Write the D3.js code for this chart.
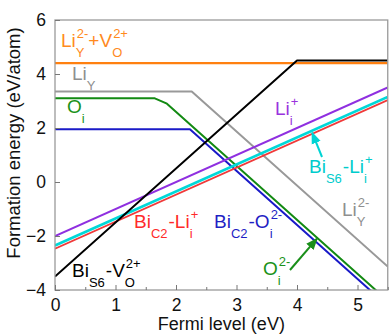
<!DOCTYPE html>
<html>
<head>
<meta charset="utf-8">
<script src="https://cdn.jsdelivr.net/npm/d3@7/dist/d3.min.js"></script>
<style>
  html, body { margin: 0; padding: 0; background: #fff; }
  svg { display: block; font-family: "Liberation Sans", Arial, sans-serif; }
</style>
</head>
<body>
<svg id="chart" width="389" height="335"></svg>
<script>
// Defect formation energies vs Fermi level (piecewise-linear, breakpoints at transition levels)
const xTicks = [0, 1, 2, 3, 4, 5];
const xMinorTicks = [0.5, 1.5, 2.5, 3.5, 4.5, 5.5];
const yTicks = [-4, -2, 0, 2, 4, 6];

const fermiLiYVo = [0, 5.5];
const energyLiYVo = [4.4, 4.4];

const fermiLiY = [0, 2.26, 5.5];
const energyLiY = [3.35, 3.35, -3.13];

const fermiOi = [0, 1.65, 1.85, 5.5];
const energyOi = [3.1, 3.1, 2.9, -4.4];

const fermiBiO = [0, 2.23, 5.5];
const energyBiO = [1.95, 1.95, -4.59];

const fermiLii = [0, 5.5];
const energyLii = [-2.0, 3.5];

const fermiBiC2Li = [0, 5.5];
const energyBiC2Li = [-2.47, 3.03];

const fermiBiS6Li = [0, 5.5];
const energyBiS6Li = [-2.35, 3.15];

const fermiBiVo = [0, 4.0, 5.5];
const energyBiVo = [-3.5, 4.5, 4.5];

const svg = d3.select("#chart");
const x = d3.scaleLinear().domain([0, 5.5]).range([55, 387.75]);
const y = d3.scaleLinear().domain([-4, 6]).range([290, 20]);

svg.append("defs").append("clipPath").attr("id", "plotClip")
  .append("rect").attr("x", x(0)).attr("y", y(6))
  .attr("width", x(5.5) - x(0)).attr("height", y(-4) - y(6));

svg.select("defs").append("marker")
  .attr("id", "headCyan").attr("viewBox", "0 0 10 10").attr("refX", 9).attr("refY", 5)
  .attr("markerWidth", 6).attr("markerHeight", 6).attr("orient", "auto")
  .append("path").attr("d", "M0,1 L10,5 L0,9 Z").attr("fill", "#00d4d4");
svg.select("defs").append("marker")
  .attr("id", "headGreen").attr("viewBox", "0 0 10 10").attr("refX", 9).attr("refY", 5)
  .attr("markerWidth", 6).attr("markerHeight", 6).attr("orient", "auto")
  .append("path").attr("d", "M0,1 L10,5 L0,9 Z").attr("fill", "#1a8f1a");

const line = d3.line().x(d => x(d[0])).y(d => y(d[1]));
const plot = svg.append("g").attr("clip-path", "url(#plotClip)");

const series = [
  { xs: fermiLiYVo, ys: energyLiYVo, color: "#ff8010", w: 2.2 },
  { xs: fermiLiY, ys: energyLiY, color: "#999999", w: 2 },
  { xs: fermiOi, ys: energyOi, color: "#138a13", w: 2 },
  { xs: fermiBiO, ys: energyBiO, color: "#1a1ac8", w: 2 },
  { xs: fermiLii, ys: energyLii, color: "#8f2fe0", w: 2 },
  { xs: fermiBiC2Li, ys: energyBiC2Li, color: "#f03a3a", w: 1.8 },
  { xs: fermiBiS6Li, ys: energyBiS6Li, color: "#00d8d8", w: 2.8 },
  { xs: fermiBiVo, ys: energyBiVo, color: "#000000", w: 2 }
];
series.forEach(s => {
  plot.append("path")
    .attr("d", line(d3.zip(s.xs, s.ys)))
    .attr("fill", "none").attr("stroke", s.color)
    .attr("stroke-width", s.w).attr("stroke-linejoin", "round");
});

// frame
svg.append("rect").attr("x", x(0)).attr("y", y(6))
  .attr("width", x(5.5) - x(0)).attr("height", y(-4) - y(6))
  .attr("fill", "none").attr("stroke", "#9a9a9a").attr("stroke-width", 1.3);

// axes with inward ticks
const xAxis = d3.axisBottom(x).tickValues(xTicks).tickSize(-5).tickPadding(9).tickFormat(d3.format("d"));
const gx = svg.append("g").attr("transform", `translate(0,${y(-4)})`).call(xAxis);
gx.select(".domain").remove();
gx.selectAll(".tick line").attr("stroke", "#777");
gx.selectAll(".tick text").attr("font-size", 17.5).attr("fill", "#111").attr("font-family", "Liberation Sans, Arial, sans-serif");
const xMinor = d3.axisBottom(x).tickValues(xMinorTicks).tickSize(-3).tickFormat("");
const gxm = svg.append("g").attr("transform", `translate(0,${y(-4)})`).call(xMinor);
gxm.select(".domain").remove();
gxm.selectAll(".tick line").attr("stroke", "#777");

const yAxis = d3.axisLeft(y).tickValues(yTicks).tickSize(-5).tickPadding(9).tickFormat(d3.format("d"));
const gy = svg.append("g").attr("transform", `translate(${x(0)},0)`).call(yAxis);
gy.select(".domain").remove();
gy.selectAll(".tick line").attr("stroke", "#777");
gy.selectAll(".tick text").attr("font-size", 17.5).attr("fill", "#111").attr("font-family", "Liberation Sans, Arial, sans-serif");

// axis titles
svg.append("text").attr("x", (x(0) + x(5.5)) / 2).attr("y", 330)
  .attr("text-anchor", "middle").attr("font-size", 18).attr("fill", "#111")
  .text("Fermi level (eV)");
svg.append("text").attr("transform", `translate(20,${(y(-4) + y(6)) / 2 - 12}) rotate(-90)`)
  .attr("text-anchor", "middle").attr("font-size", 18.5).attr("fill", "#111")
  .text("Formation energy (eV/atom)");

// labels with sub/superscripts
function richLabel(px, py, parts, color) {
  const g = svg.append("g").attr("fill", color);
  let cx = px;
  parts.forEach(p => {
    const [kind, a, b] = p;
    if (kind === "n") {
      const t = g.append("text").attr("x", cx).attr("y", py).attr("font-size", 19).text(a);
      cx += t.node().getComputedTextLength();
    } else if (kind === "sub") {
      const t = g.append("text").attr("x", cx).attr("y", py + 10).attr("font-size", 13).text(a);
      cx += t.node().getComputedTextLength() + 1;
    } else if (kind === "sup") {
      const t = g.append("text").attr("x", cx + 1).attr("y", py - 9).attr("font-size", 13).text(a);
      cx += t.node().getComputedTextLength() + 1;
    } else if (kind === "subsup") {
      const t1 = g.append("text").attr("x", cx).attr("y", py + 10).attr("font-size", 13).text(a);
      const t2 = g.append("text").attr("x", cx + 1).attr("y", py - 9).attr("font-size", 13).text(b);
      cx += Math.max(t1.node().getComputedTextLength(), t2.node().getComputedTextLength() + 1);
    }
  });
}

richLabel(61, 47, [["n", "Li"], ["subsup", "Y", "2-"], ["n", "+V"], ["subsup", "O", "2+"]], "#ff8a1e");
richLabel(72, 80, [["n", "Li"], ["sub", "Y"]], "#8f8f8f");
richLabel(67, 113, [["n", "O"], ["sub", "i"]], "#1a921a");
richLabel(275, 115, [["n", "Li"], ["subsup", "i", "+"]], "#9933dd");
richLabel(309, 173, [["n", "Bi"], ["sub", "S6"], ["n", "-Li"], ["subsup", "i", "+"]], "#00cccc");
richLabel(342, 216, [["n", "Li"], ["subsup", "Y", "2-"]], "#8f8f8f");
richLabel(134, 228, [["n", "Bi"], ["sub", "C2"], ["n", "-Li"], ["subsup", "i", "+"]], "#ff2a2a");
richLabel(214, 228, [["n", "Bi"], ["sub", "C2"], ["n", "-O"], ["subsup", "i", "2-"]], "#1f1fc4");
richLabel(72, 277, [["n", "Bi"], ["sub", "S6"], ["n", "-V"], ["subsup", "O", "2+"]], "#000000");
richLabel(263, 275, [["n", "O"], ["subsup", "i", "2-"]], "#1a921a");

// pointers from labels to their lines
const cyanTarget = 4.25;
svg.append("line")
  .attr("x1", 322).attr("y1", 157)
  .attr("x2", x(cyanTarget)).attr("y2", y(energyBiS6Li[0] + cyanTarget) + 2)
  .attr("stroke", "#00d4d4").attr("stroke-width", 2).attr("marker-end", "url(#headCyan)");
const greenTarget = 4.33;
svg.append("line")
  .attr("x1", 290).attr("y1", 270)
  .attr("x2", x(greenTarget)).attr("y2", y(2.9 - 2 * (greenTarget - 1.85)) + 1)
  .attr("stroke", "#1a8f1a").attr("stroke-width", 2).attr("marker-end", "url(#headGreen)");
</script>
</body>
</html>
